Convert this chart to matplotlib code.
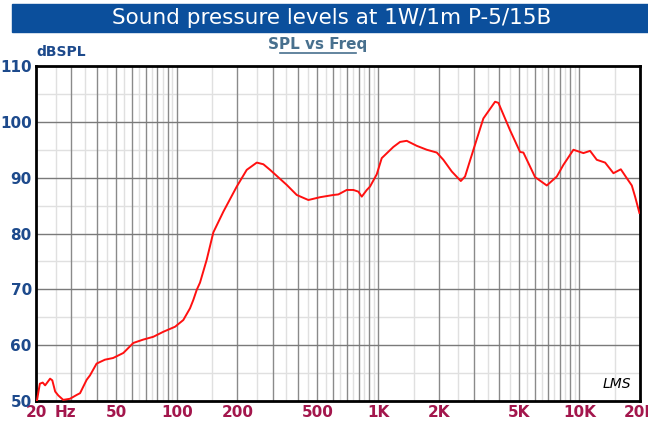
import numpy as np
import matplotlib
matplotlib.use('Agg')
import matplotlib.pyplot as plt
from matplotlib.patches import Rectangle

# SPL curve
freq = [20.2, 20.9, 21.6, 22.2, 23.5, 24.1, 24.9, 25.8, 27.3, 29.5, 31.9, 33.1,
        35.7, 37.1, 40.0, 44.0, 48.3, 54.3, 60.9, 68.2, 76.5, 85.8, 98.1,
        107.8, 116.4, 120.9, 125.7, 130.5, 140.9, 152, 170.4, 198.6, 222.7,
        249.8, 269.4, 290.8, 352, 394.6, 450.6, 515, 600, 635, 699, 754, 798,
        830, 879, 912, 985, 1043, 1191, 1286, 1388, 1557, 1746, 1957, 2110,
        2324, 2576, 2704, 2976, 3334, 3812, 3960, 4524, 5074, 5270, 6024,
        6888, 7722, 8330, 9340, 10470, 11300, 12200, 13420, 14760, 16060,
        17200, 18210, 18910, 19860]
spl = [50.0, 53.1, 53.3, 52.8, 54.0, 53.7, 51.7, 51.0, 50.2, 50.4, 51.1, 51.4,
       53.8, 54.6, 56.7, 57.4, 57.7, 58.6, 60.4, 61.0, 61.5, 62.4, 63.3,
       64.5, 66.6, 68.1, 69.9, 71.2, 75.3, 80.2, 83.9, 88.4, 91.4,
       92.7, 92.4, 91.4, 88.7, 86.9, 86.0, 86.5, 86.9, 87.0, 87.8, 87.8, 87.5,
       86.6, 87.8, 88.4, 90.6, 93.5, 95.5, 96.4, 96.6, 95.7, 95.0, 94.5, 93.2,
       91.1, 89.4, 90.2, 95.0, 100.6, 103.6, 103.4, 98.5, 94.6, 94.5, 90.1,
       88.6, 90.2, 92.3, 95.0, 94.4, 94.8, 93.2, 92.7, 90.8, 91.5,
       89.9, 88.6, 86.6, 83.7]

xticks = [20, 50, 100, 200, 500, 1000, 2000, 5000, 10000, 20000]
xlabels = ['20', '50', '100', '200', '500', '1K', '2K', '5K', '10K', '20K']
yticks = [50, 60, 70, 80, 90, 100, 110]

blue = '#1d4a8c'
red_lbl = '#a3164c'

fig = plt.figure(figsize=(6.48, 4.21), dpi=100)
ax = fig.add_axes([36/648, 1-401/421, 604/648, 335/421])

# title bar
fig.patches.append(Rectangle((12/648, 1-32/421), 636/648, 28/421,
                             transform=fig.transFigure, color='#0b4f9c', zorder=0))
fig.text(0.512, 1-18/421, 'Sound pressure levels at 1W/1m P-5/15B', color='white',
         fontsize=15.5, ha='center', va='center')
fig.text(318/648, 1-45/421, 'SPL vs Freq', color='#48708e', fontsize=11,
         fontweight='bold', ha='center', va='center')
fig.add_artist(plt.Line2D([280/648, 356/648], [1-53/421, 1-53/421],
                          color='#48708e', lw=1.2))
fig.text(36/648, 1-52/421, 'dBSPL', color=blue, fontsize=10,
         fontweight='bold', ha='left', va='center')

# grid lines
for dec in [10, 100, 1000, 10000]:
    for k in range(1, 10):
        f = k * dec
        if 20 < f < 20000:
            ax.axvline(f, color='#8a8a8a', lw=1, zorder=1)
        fm = (k + 0.5) * dec
        if 20 < fm < 20000:
            ax.axvline(fm, color='#e0e0e0', lw=1, zorder=0.5)
for v in range(55, 110, 10):
    ax.axhline(v, color='#e0e0e0', lw=1, zorder=0.5)
for v in range(60, 110, 10):
    ax.axhline(v, color='#7a7a7a', lw=1, zorder=1)

ax.plot(freq, spl, color='#ff1010', lw=1.4, zorder=3)

ax.set_xscale('log')
ax.set_xlim(20, 20000)
ax.set_ylim(50, 110)
ax.set_xticks(xticks)
ax.set_xticklabels(xlabels)
ax.minorticks_off()
ax.set_yticks(yticks)
ax.tick_params(length=0)
ax.tick_params(axis='x', pad=3, labelsize=11, labelcolor=red_lbl)
ax.tick_params(axis='y', pad=3, labelsize=11, labelcolor=blue)
for lbl in ax.get_xticklabels() + ax.get_yticklabels():
    lbl.set_fontweight('bold')
for s in ax.spines.values():
    s.set_linewidth(2)
    s.set_color('black')

ax.text(27.9, -0.012, 'Hz', transform=ax.get_xaxis_transform(), color=red_lbl,
        fontsize=11, fontweight='bold', ha='center', va='top')
ax.text(0.985, 0.05, 'LMS', transform=ax.transAxes, fontsize=10,
        fontstyle='italic', ha='right', va='center')

fig.savefig('out.png', dpi=100)
